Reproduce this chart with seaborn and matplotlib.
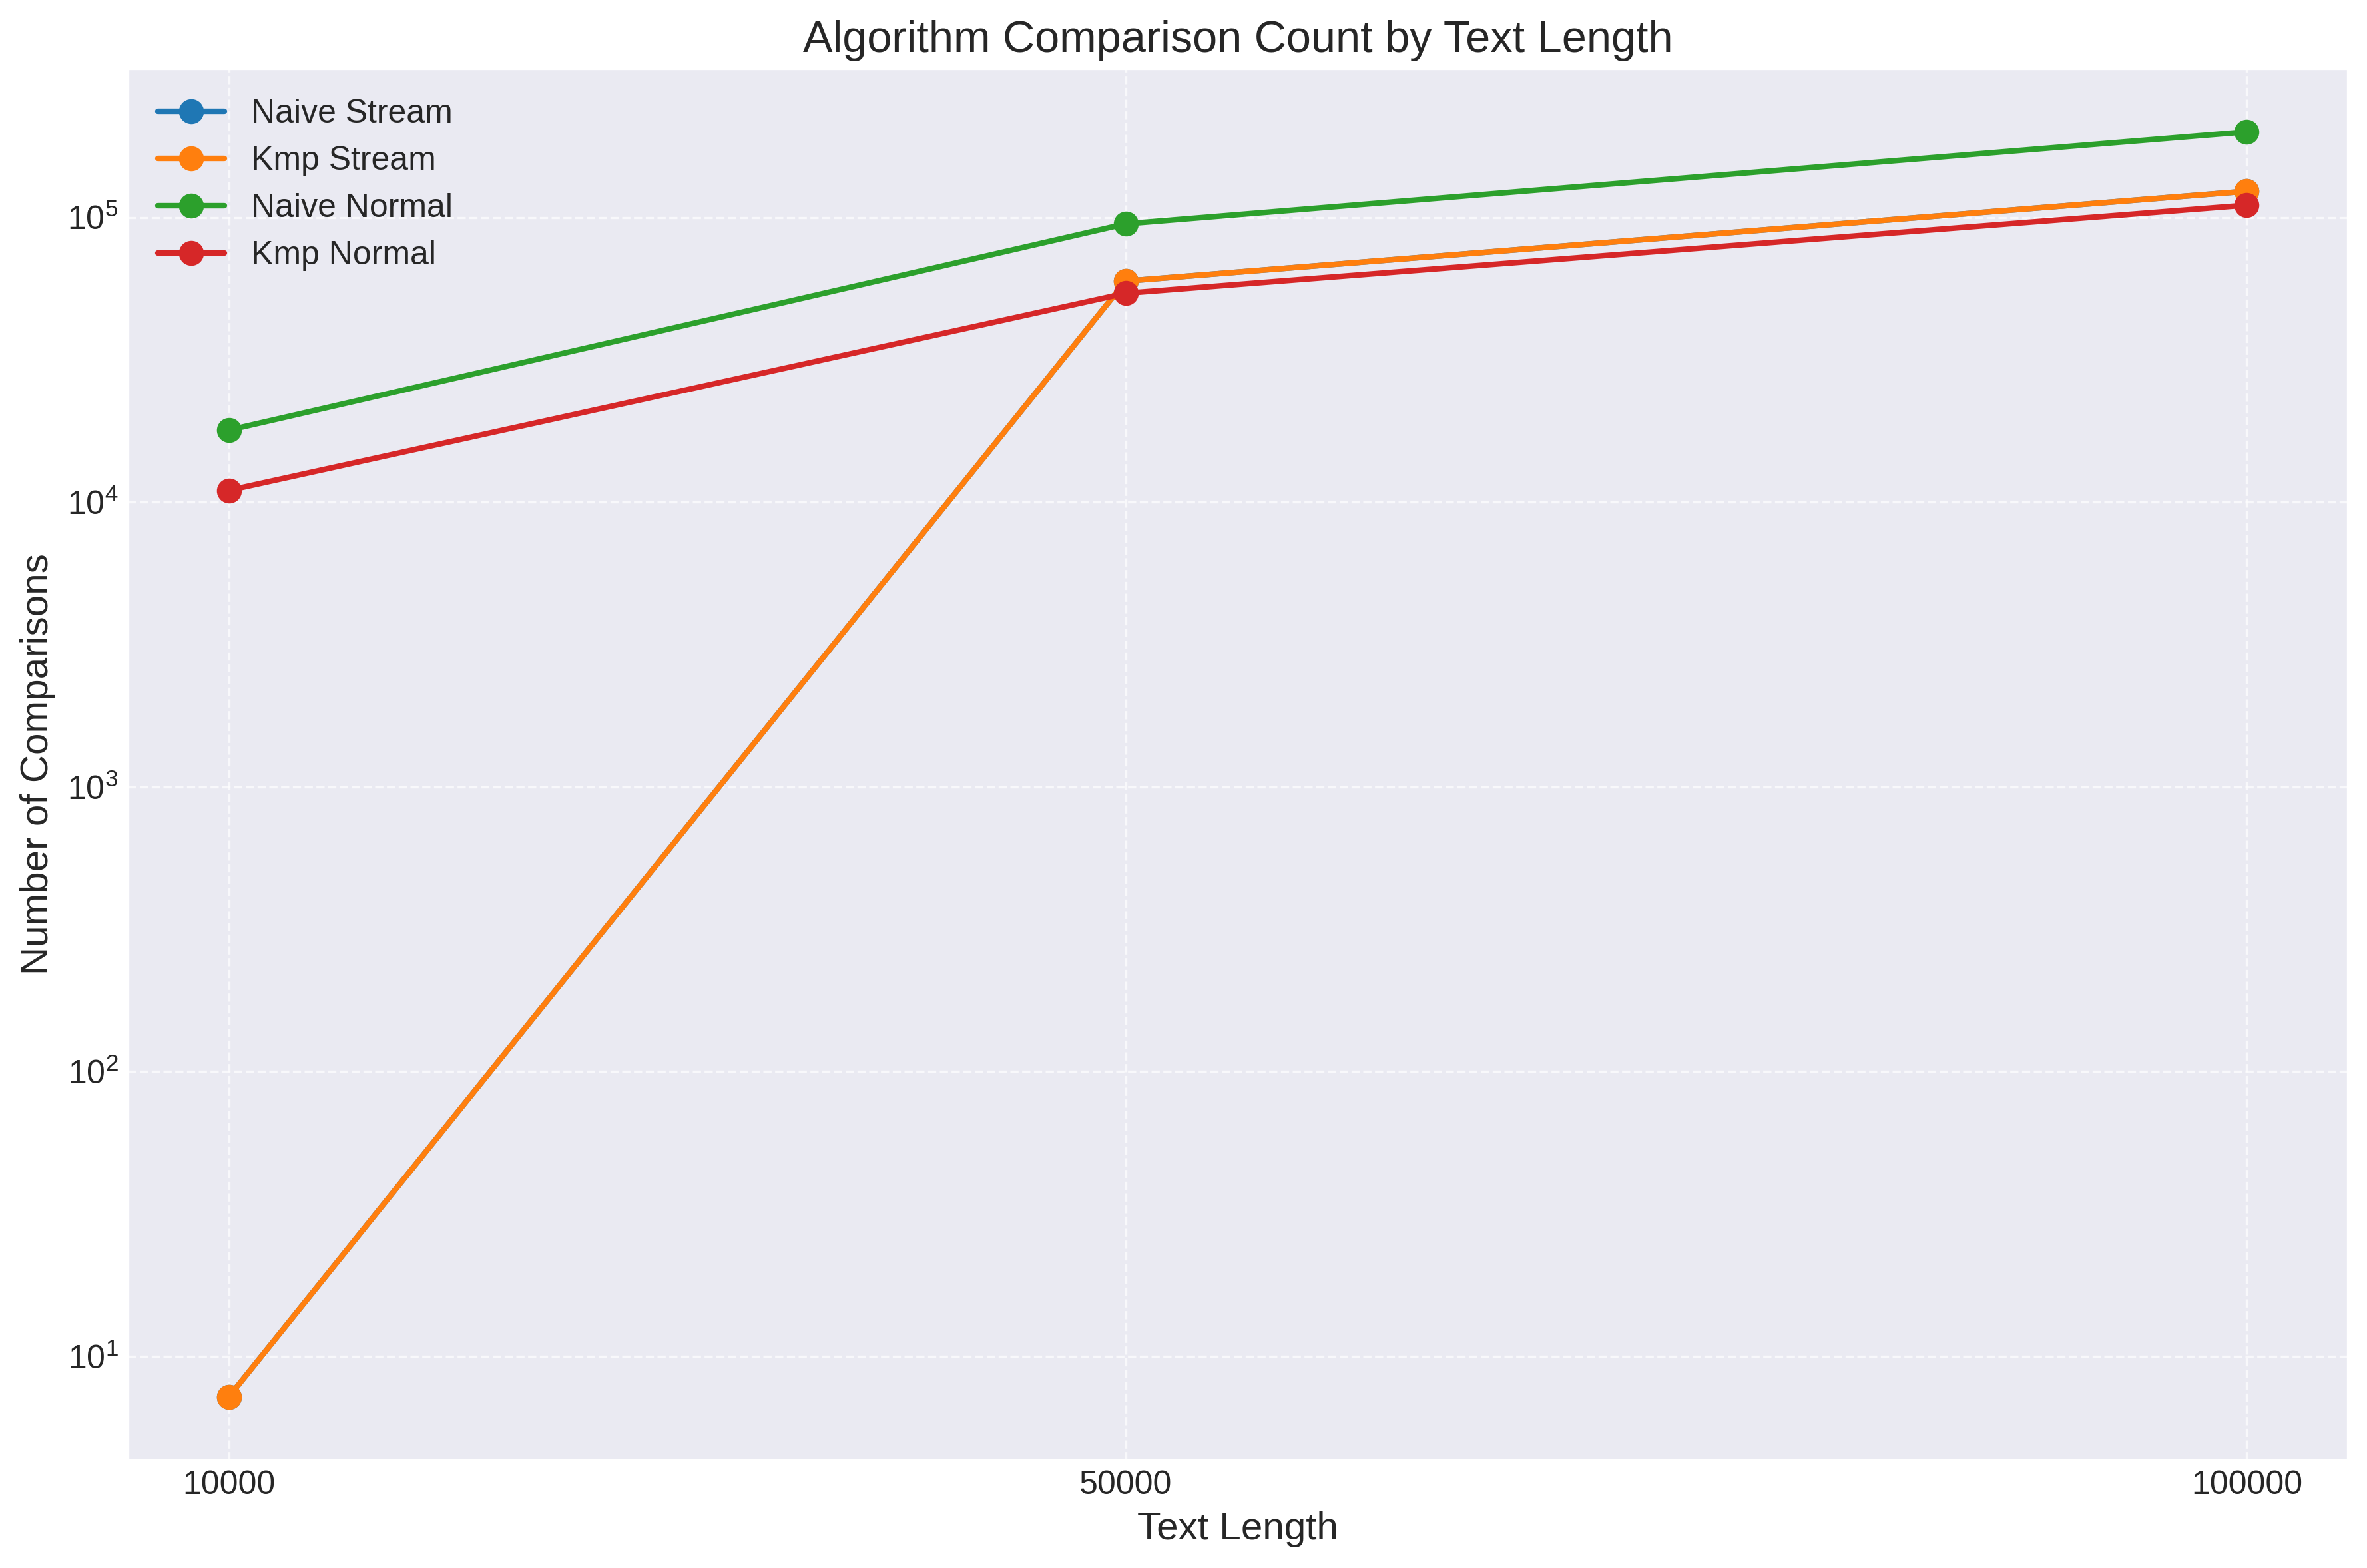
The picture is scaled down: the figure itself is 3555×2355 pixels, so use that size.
import pandas as pd
import matplotlib.pyplot as plt
import seaborn as sns

# Datos
text_lengths = [10000, 50000, 100000]
naive_stream = [7.2, 59800, 123700]
kmp_stream = [7.2, 59800, 123700]
naive_normal = [17900, 95000, 200000]
kmp_normal = [11000, 54200, 110500]
series_names = ["Naive Stream", "Kmp Stream", "Naive Normal", "Kmp Normal"]
series_colors = ["#1f77b4", "#ff7f0e", "#2ca02c", "#d62728"]

df = pd.DataFrame({
    "text_length": text_lengths * 4,
    "comparisons": naive_stream + kmp_stream + naive_normal + kmp_normal,
    "series": [name for name in series_names for _ in text_lengths],
})

sns.set_style("darkgrid")
plt.rcParams["font.family"] = ["Liberation Sans", "DejaVu Sans"]

fig, ax = plt.subplots(figsize=(11.85, 7.85), dpi=300)
sns.lineplot(
    data=df,
    x="text_length",
    y="comparisons",
    hue="series",
    hue_order=series_names,
    palette=series_colors,
    marker="o",
    markersize=9,
    markeredgewidth=0,
    linewidth=2,
    errorbar=None,
    ax=ax,
)
ax.set_yscale("log")
ax.set_xticks(text_lengths)
ax.set_xticklabels([str(v) for v in text_lengths])
ax.tick_params(labelsize=12, length=0, pad=3.5)
ax.grid(True, linestyle="--", alpha=0.7)

ax.set_title("Algorithm Comparison Count by Text Length", fontsize=16)
ax.set_xlabel("Text Length", fontsize=14)
ax.set_ylabel("Number of Comparisons", fontsize=14)
ax.legend(loc="upper left", fontsize=12, frameon=False)

fig.subplots_adjust(left=192 / 3555, right=3526 / 3555, top=1 - 103 / 2355, bottom=1 - 2193 / 2355)
fig.savefig("out.png", dpi=300)
plt.close(fig)
